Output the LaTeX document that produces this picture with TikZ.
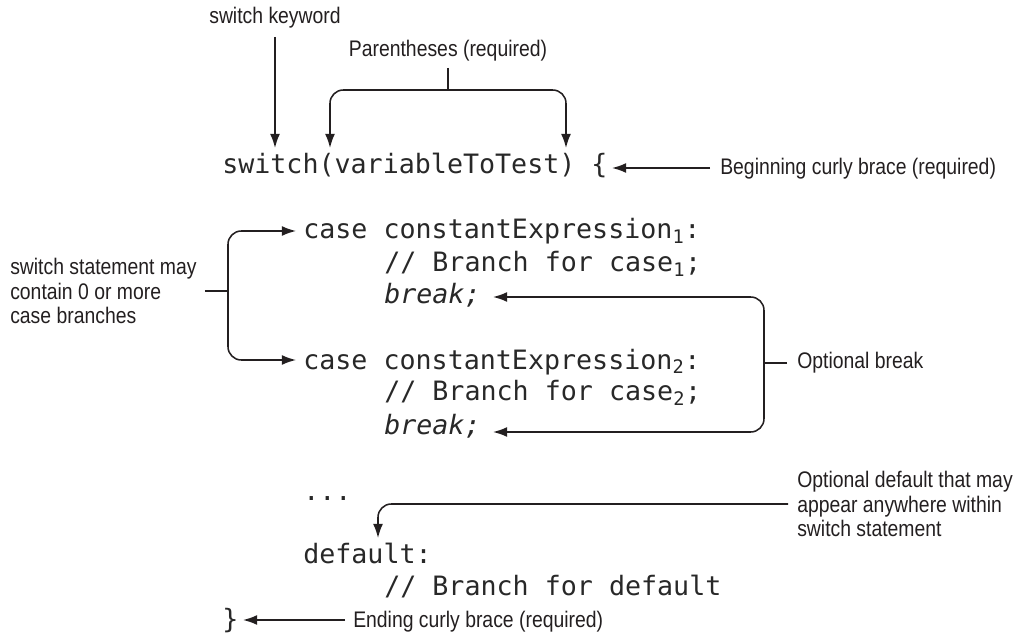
\documentclass[tikz,border=0pt]{standalone}
\usepackage{fontspec}
\setmainfont{Liberation Sans}[FakeStretch=0.86]
\setmonofont{DejaVu Sans Mono}
\usetikzlibrary{
  arrows.meta,
  positioning
}
\definecolor{ink}{RGB}{35,31,32}
\definecolor{codeink}{RGB}{40,40,40}
\tikzset{
  >={Latex[length=3.7mm,width=2.6mm]},
  callout/.style={line width=1.15pt,draw=ink,rounded corners=10pt},
  codeline/.style={font=\fontsize{20}{24}\selectfont\ttfamily,text=codeink,anchor=base west,inner sep=0pt},
  note/.style={font=\fontsize{16.9}{18.5}\selectfont,text=ink,align=left,inner sep=0pt}
}

\begin{document}
\begin{tikzpicture}[x=0.75pt,y=-0.75pt]
  \useasboundingbox (0,0) rectangle (1017,634);

  % code listing
  \node[codeline] (head) at (222,174) {switch(variableToTest) \{};
  \node[codeline] (caseone) at (303,239) {case constantExpression\textsubscript{1}:};
  \node[codeline] (bodyone) at (384,272) {// Branch for case\textsubscript{1};};
  \node[codeline] (breakone) at (384,304) {\textit{break;}};
  \node[codeline] (casetwo) at (303,369) {case constantExpression\textsubscript{2}:};
  \node[codeline] (bodytwo) at (384,401) {// Branch for case\textsubscript{2};};
  \node[codeline] (breaktwo) at (384,434) {\textit{break;}};
  \node[codeline] (dots) at (303,500) {...};
  \node[codeline] (dflt) at (303,563) {default:};
  \node[codeline] (bodydflt) at (384,595) {// Branch for default};
  \node[codeline] (tail) at (222,628) {\}};

  % notes
  \node[note,anchor=base] (keyword) at (275,24) {switch keyword};
  \node[note,anchor=base] (parens) at (448,57) {Parentheses (required)};
  \node[note,anchor=base west] (openbrace) at (720,175) {Beginning curly brace (required)};
  \node[note,anchor=west] (cases) at (10,291) {switch statement may\\contain 0 or more\\case branches};
  \node[note,anchor=west] (optbreak) at (797,363) {Optional break};
  \node[note,anchor=west] (optdflt) at (797,504) {Optional default that may\\appear anywhere within\\switch statement};
  \node[note,anchor=base west] (closebrace) at (353,627) {Ending curly brace (required)};

  % arrow ends
  \coordinate (kwtip) at (275,148);
  \coordinate (lpar) at (330,148);
  \coordinate (rpar) at (566,148);
  \coordinate (opentip) at (612,168);
  \coordinate (caseonetip) at (296,231);
  \coordinate (casetwotip) at (296,360);
  \coordinate (breakonetip) at (493,297);
  \coordinate (breaktwotip) at (493,432);
  \coordinate (dflttip) at (378,538);
  \coordinate (closetip) at (243,620);

  \draw[callout,->] (keyword.south) ++(0,8) -- (kwtip);
  \draw[callout] (parens.south) ++(0,6) -- (448,90);
  \draw[callout,<->] (lpar) -- (330,90) -- (566,90) -- (rpar);
  \draw[callout,->] ([xshift=-7.5pt]openbrace.west |- opentip) -- (opentip);

  \draw[callout] (cases.east) ++(8,0) -- (228,291);
  \draw[callout,<->] (caseonetip) -- (228,231) -- (228,360) -- (casetwotip);

  \draw[callout] (optbreak.west) ++(-10,0) -- (764,363);
  \draw[callout,<->] (breakonetip) -- (764,297) -- (764,432) -- (breaktwotip);

  \draw[callout,->] (optdflt.west) ++(-9,0) -- (378,504) -- (dflttip);
  \draw[callout,->] ([xshift=-6pt]closebrace.west |- closetip) -- (closetip);
\end{tikzpicture}
\end{document}
